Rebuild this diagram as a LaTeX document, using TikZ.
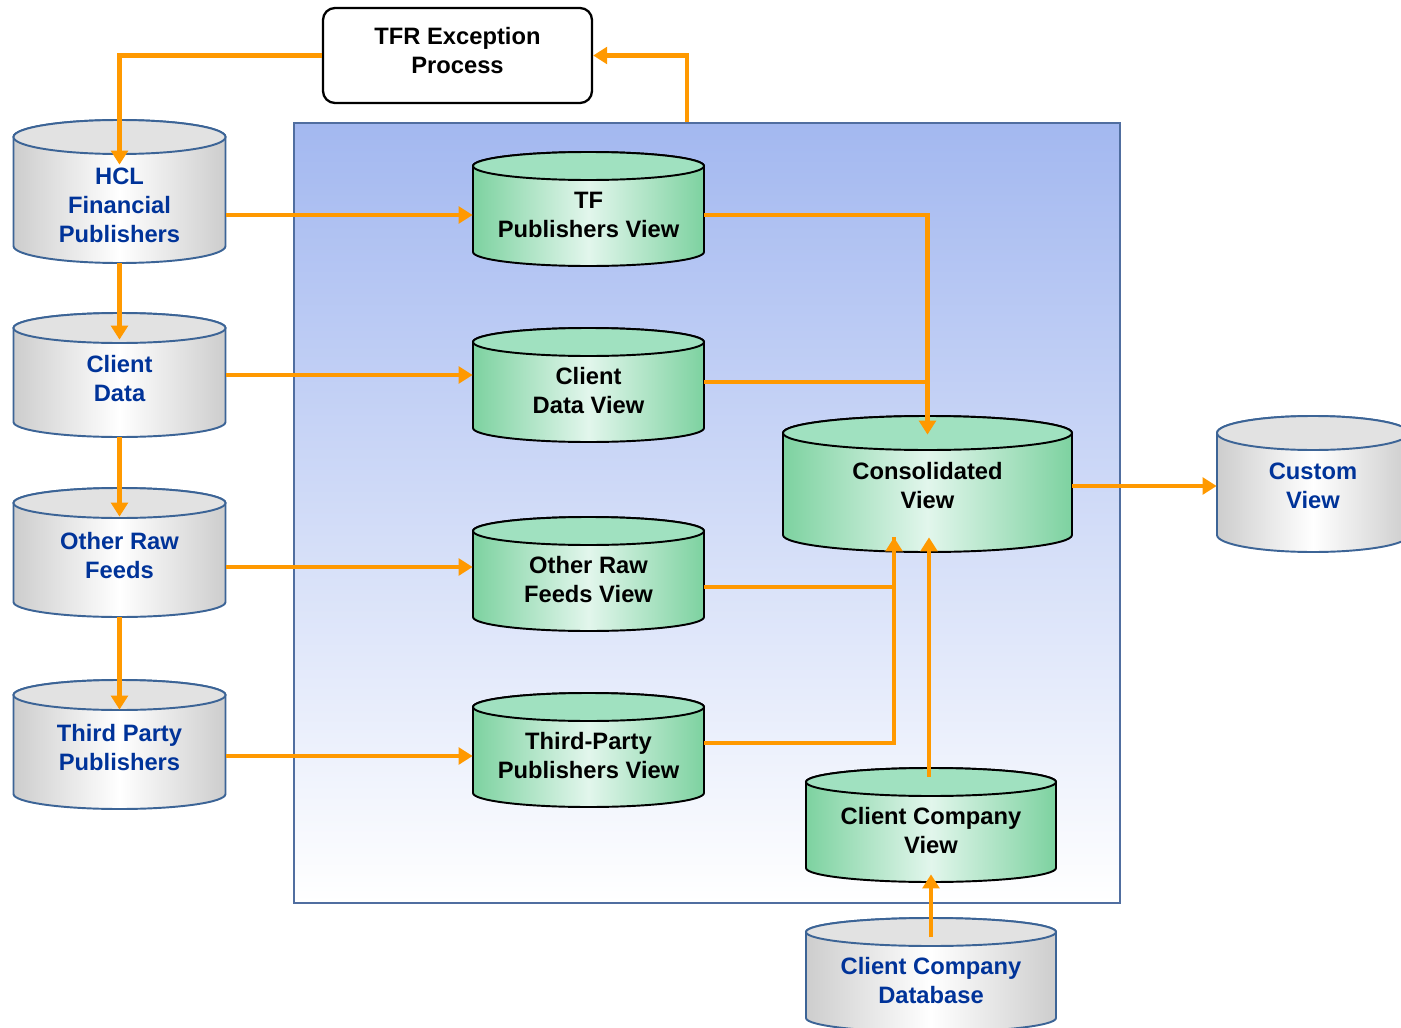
\documentclass[tikz,border=0pt]{standalone}
\usepackage{fontspec}
\setmainfont{Liberation Sans}
\usetikzlibrary{arrows.meta,calc}

\definecolor{flowor}{RGB}{255,153,0}
\definecolor{dbblue}{RGB}{0,51,153}
\definecolor{dbedge}{RGB}{60,100,150}
\definecolor{greyside}{RGB}{205,205,205}
\definecolor{greytop}{RGB}{226,226,226}
\definecolor{greenside}{RGB}{125,210,160}
\definecolor{greenmid}{RGB}{226,246,236}
\definecolor{greentop}{RGB}{160,225,192}
\definecolor{panelblue}{RGB}{163,184,240}
\definecolor{paneledge}{RGB}{80,110,160}

\newcommand{\dbcyl}[9]{%
  \path[#1 body] (#3-#6,-#4) -- (#3-#6,-#5) arc[start angle=180,end angle=360,x radius=#6,y radius=#7] -- (#3+#6,-#4) arc[start angle=0,end angle=180,x radius=#6,y radius=#7] -- cycle;
  \path[#1 top] (#3,-#4) ellipse[x radius=#6,y radius=#7];
  \node[#1 text,minimum width={2*#6*0.02cm},minimum height={(#5-#4)*0.02cm}] (#2) at (#3,-#4/2-#5/2-#9) {#8};
}

\begin{document}
\begin{tikzpicture}[x=0.02cm,y=0.02cm,font=\fontsize{13.5}{16.5}\selectfont\bfseries,
  grey body/.style={left color=greyside,right color=greyside,middle color=white,draw=dbedge,line width=1.1pt},
  grey top/.style={fill=greytop,draw=dbedge,line width=1.1pt},
  grey text/.style={text=dbblue,align=center,inner sep=0pt},
  green body/.style={left color=greenside,right color=greenside,middle color=greenmid,draw=black,line width=1.1pt},
  green top/.style={fill=greentop,draw=black,line width=1.1pt},
  green text/.style={text=black,align=center,inner sep=0pt},
  panel/.style={top color=panelblue,bottom color=white,draw=paneledge,line width=0.8pt},
  procbox/.style={draw=black,fill=white,rounded corners=0.24cm,line width=1.3pt,align=center,text depth=5.3pt},
  flow/.style={draw=flowor,line width=2.3pt,-{Triangle[length=8pt,width=9.5pt]}},
  feed/.style={draw=flowor,line width=2.3pt}]
  \useasboundingbox (0,0) rectangle (1401,-1028);
  \node[panel,minimum width={826*0.02cm},minimum height={780*0.02cm}] (panel) at (707,-513) {};
  \node[procbox,minimum width={269*0.02cm},minimum height={95*0.02cm}] (tfr) at (457.5,-55.5) {TFR Exception\\Process};
  \dbcyl{grey}{hcl}{119.5}{137}{246}{106}{17}{HCL\\Financial\\Publishers}{13.5}
  \dbcyl{grey}{cd}{119.5}{328}{422}{106}{15}{Client\\Data}{4}
  \dbcyl{grey}{orf}{119.5}{503}{602}{106}{15}{Other Raw\\Feeds}{3}
  \dbcyl{grey}{tp}{119.5}{695}{794}{106}{15}{Third Party\\Publishers}{3}
  \dbcyl{grey}{cust}{1313}{433}{535}{96}{17}{Custom\\View}{2}
  \dbcyl{grey}{ccdb}{931}{932}{1018}{125}{14}{Client Company\\Database}{5.6}
  \dbcyl{green}{tfv}{588.5}{166}{252}{115.5}{14}{TF\\Publishers View}{6}
  \dbcyl{green}{cdv}{588.5}{342}{428}{115.5}{14}{Client\\Data View}{6}
  \dbcyl{green}{orfv}{588.5}{531}{617}{115.5}{14}{Other Raw\\Feeds View}{6}
  \dbcyl{green}{tpv}{588.5}{707}{793}{115.5}{14}{Third-Party\\Publishers View}{6}
  \dbcyl{green}{cons}{927.5}{433}{535}{144.5}{17}{Consolidated\\View}{2}
  \dbcyl{green}{ccv}{931}{782}{868}{125}{14}{Client Company\\View}{6}
  \coordinate (consin) at ([xshift=-0.67cm]cons.south);
  \draw[flow] (tfr.west) -| ([yshift=-0.29cm]hcl.north);
  \draw[flow] ([xshift=-0.4cm]panel.north) |- (tfr.east);
  \draw[flow] ([yshift=-0.07cm]hcl.south) -- ([yshift=-0.16cm]cd.north);
  \draw[flow] ([yshift=-0.22cm]cd.south) -- ([yshift=-0.22cm]orf.north);
  \draw[flow] ([yshift=-0.24cm]orf.south) -- ([yshift=-0.24cm]tp.north);
  \draw[flow] (hcl.east |- tfv.west) -- (tfv.west);
  \draw[flow] ($(cd.east)+(0,4)$) -- ($(cd.east -| cdv.west)+(0,4)$);
  \draw[flow] ($(orf.east)+(0,-11.5)$) -- ($(orf.east -| orfv.west)+(0,-11.5)$);
  \draw[flow] (tp.east |- tpv.west) -- (tpv.west);
  \draw[flow] (tfv.east) -| (cons.north);
  \draw[feed] ($(cdv.east)+(0,9)$) -- ($(cdv.east -| cons.north)+(0,9)$);
  \draw[flow] ($(orfv.east)+(0,-7)$) -| (consin);
  \draw[feed] ($(tpv.east)+(0,13)$) -| (consin);
  \draw[flow] ($(ccv.north)+(-2,11)$) -- ($(ccv.north |- cons.south)+(-2,0)$);
  \draw[flow] (ccdb.north) -- (ccv.south);
  \draw[flow] (cons.east) -- (cons.east -| cust.west);
\end{tikzpicture}
\end{document}
